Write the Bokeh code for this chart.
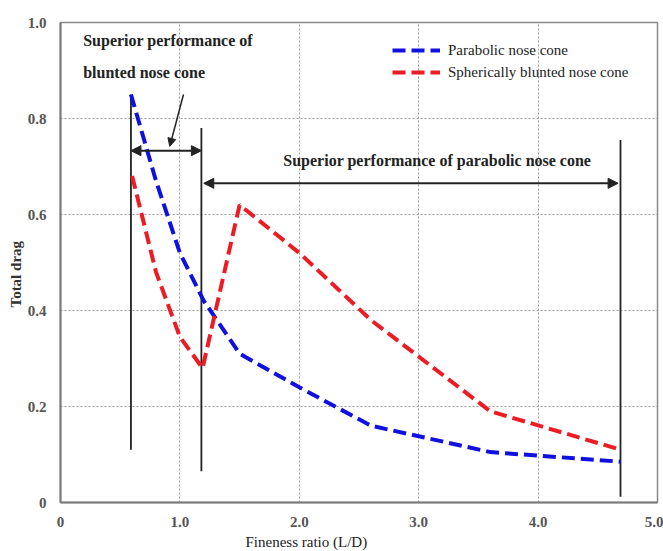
from bokeh.plotting import figure
from bokeh.models import (Arrow, NormalHead, Label, Legend, LegendItem, Title,
                          CustomJSTickFormatter, Range1d, FixedTicker)
from bokeh.embed import file_html
from bokeh.resources import INLINE

# Total drag against fineness ratio for two nose-cone shapes
fineness_parabolic = [0.59, 0.8, 1.0, 1.2, 1.5, 2.0, 2.6, 3.6, 4.69]
drag_parabolic = [0.85, 0.67, 0.52, 0.42, 0.31, 0.24, 0.16, 0.105, 0.085]

fineness_blunted = [0.6, 0.8, 1.0, 1.19, 1.5, 2.0, 2.6, 3.6, 4.69]
drag_blunted = [0.68, 0.48, 0.345, 0.28, 0.62, 0.52, 0.38, 0.19, 0.11]

# Region boundaries (fineness ratio) and the vertical extent of each marker
boundary_x = [0.59, 1.18, 4.69]
boundary_top = [0.85, 0.78, 0.755]
boundary_bottom = [0.11, 0.065, 0.012]

x_ticks = [0, 1, 2, 3, 4, 5]
y_ticks = [0, 0.2, 0.4, 0.6, 0.8, 1.0]

SERIF = "'Liberation Serif'"
INK = "#222222"

p = figure(width=663, height=551, output_backend="svg", toolbar_location=None,
           x_range=Range1d(0, 5), y_range=Range1d(0, 1),
           min_border_left=60, min_border_right=6,
           min_border_top=22, min_border_bottom=49)
p.background_fill_color = "white"
p.border_fill_color = "white"
p.outline_line_color = "#8a8a8a"
p.outline_line_width = 1.5

fmt = CustomJSTickFormatter(code="return tick == 0 ? '0' : tick.toFixed(1);")
for ax, ticks in ((p.xaxis[0], x_ticks), (p.yaxis[0], y_ticks)):
    ax.ticker = FixedTicker(ticks=ticks)
    ax.formatter = fmt
    ax.major_tick_line_color = None
    ax.minor_tick_line_color = None
    ax.axis_line_color = "#7a7a7a"
    ax.axis_line_width = 2
    ax.major_label_text_font = SERIF
    ax.major_label_text_font_size = "15px"
    ax.major_label_text_font_style = "bold"
    ax.major_label_text_color = "#555555"
p.xaxis.major_label_standoff = 8
p.yaxis.major_label_standoff = 8

p.xgrid[0].ticker = FixedTicker(ticks=x_ticks)
p.ygrid[0].ticker = FixedTicker(ticks=y_ticks)
for g in (p.xgrid[0], p.ygrid[0]):
    g.grid_line_color = "#9a9a9a"
    g.grid_line_dash = "2 2"
    g.grid_line_width = 1

# Axis titles
p.add_layout(Title(text="Total drag", align="left", offset=195,
                   text_font=SERIF, text_font_size="15px",
                   text_font_style="bold", text_color="#333333", standoff=2), "left")
p.add_layout(Title(text="Fineness ratio (L/D)", align="left", offset=185,
                   text_font=SERIF, text_font_size="15px",
                   text_font_style="normal", text_color=INK, standoff=4), "below")

# Region boundary markers
p.segment(x0=boundary_x, y0=boundary_bottom, x1=boundary_x, y1=boundary_top,
          line_color=INK, line_width=1.8)

# Data curves
r_par = p.line(fineness_parabolic, drag_parabolic, line_color="#1010e0",
               line_width=4, line_dash="13 6")
r_blu = p.line(fineness_blunted, drag_blunted, line_color="#ec1c24",
               line_width=4, line_dash="13 6")

# Range arrows
head = dict(size=10, fill_color=INK, line_color=INK)
p.add_layout(Arrow(start=NormalHead(**head), end=NormalHead(**head),
                   x_start=boundary_x[0], x_end=boundary_x[1],
                   y_start=0.733, y_end=0.733, line_color=INK, line_width=2))
p.add_layout(Arrow(start=NormalHead(**head), end=NormalHead(**head),
                   x_start=boundary_x[1] + 0.02, x_end=boundary_x[2] - 0.02,
                   y_start=0.665, y_end=0.665, line_color=INK, line_width=2))
p.add_layout(Arrow(end=NormalHead(size=8, fill_color=INK, line_color=INK),
                   x_start=1.03, y_start=0.85, x_end=0.915, y_end=0.742,
                   line_color=INK, line_width=1.5))

# Annotations
note = dict(text_font=SERIF, text_font_size="16px", text_font_style="bold",
            text_color=INK, text_baseline="middle")
p.add_layout(Label(x=0.19, y=0.9625, text="Superior performance of", **note))
p.add_layout(Label(x=0.19, y=0.896, text="blunted nose cone", **note))
p.add_layout(Label(x=1.866, y=0.7125,
                   text="Superior performance of parabolic nose cone", **note))

legend = Legend(items=[LegendItem(label="Parabolic nose cone", renderers=[r_par]),
                       LegendItem(label="Spherically blunted nose cone", renderers=[r_blu])],
                location=(332, 421), padding=0, margin=0, spacing=4,
                glyph_width=48, glyph_height=18, label_height=18,
                label_standoff=8, label_text_font=SERIF,
                label_text_font_size="15px", label_text_color=INK,
                background_fill_alpha=0, border_line_alpha=0)
p.add_layout(legend)

open("out.html", "w").write(file_html(p, INLINE))
